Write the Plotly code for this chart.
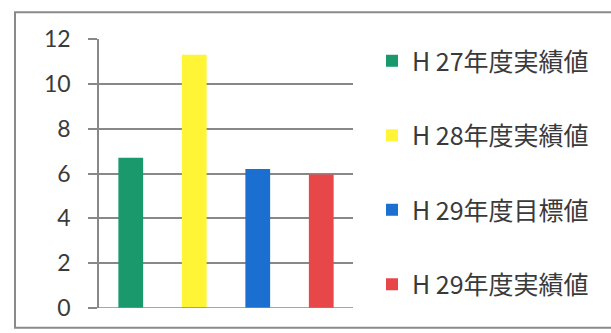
import plotly.graph_objects as go

# Series shown as side-by-side bars in a single group
series_names = ["H 27年度実績値", "H 28年度実績値", "H 29年度目標値", "H 29年度実績値"]
series_values = [6.7, 11.3, 6.2, 5.95]
series_colors = ["#1A9A6C", "#FFF436", "#1A6FD0", "#E8474A"]
y_ticks = [0, 2, 4, 6, 8, 10, 12]

W, H = 611, 333
ML, MR, MT, MB = 99, 258, 39, 23
pw, ph = W - ML - MR, H - MT - MB

fig = go.Figure()
for i, (name, val, col) in enumerate(zip(series_names, series_values, series_colors)):
    fig.add_trace(go.Bar(
        x=[""], y=[val], name=name,
        marker=dict(color=col, line=dict(width=0)),
        legendgroup=f"g{i}",
    ))

def px_x(p):
    return (p - ML) / pw

def px_y(p):
    return (H - MB - p) / ph

grid_col = "#888888"
text_col = "#3A3A3A"

fig.update_layout(
    width=W, height=H,
    margin=dict(l=ML, r=MR, t=MT, b=MB),
    paper_bgcolor="white", plot_bgcolor="white",
    barmode="group", bargap=0.0, bargroupgap=0.61,
    font=dict(family="Lato, 'Noto Sans CJK JP', sans-serif", color=text_col),
    showlegend=True,
    legend=dict(
        x=px_x(372), y=px_y(38), xanchor="left", yanchor="top",
        font=dict(size=25, color=text_col,
                  family="'Noto Sans CJK JP', Lato, sans-serif"),
        tracegroupgap=39, bgcolor="rgba(0,0,0,0)", maxheight=400,
    ),
    xaxis=dict(showticklabels=False, showgrid=False, zeroline=False,
               showline=False, ticks=""),
    yaxis=dict(range=[0, 12], tickvals=y_ticks, showgrid=True,
               gridcolor=grid_col, gridwidth=1.6, zeroline=False,
               showline=True, linecolor=grid_col, linewidth=1.5,
               ticks="outside", ticklen=9, tickcolor=grid_col, tickwidth=1.6,
               ticklabelstandoff=13,
               tickfont=dict(size=23, color=text_col)),
    shapes=[
        # baseline along y = 0
        dict(type="line", xref="paper", yref="y", x0=px_x(90), x1=1, y0=0, y1=0,
             line=dict(color=grid_col, width=1.6)),
        # outer chart frame
        dict(type="rect", xref="paper", yref="paper",
             x0=px_x(15), x1=px_x(640), y0=px_y(330), y1=px_y(12),
             line=dict(color="#8A8A8A", width=2), layer="below"),
    ],
)

fig.write_html("out.html")
